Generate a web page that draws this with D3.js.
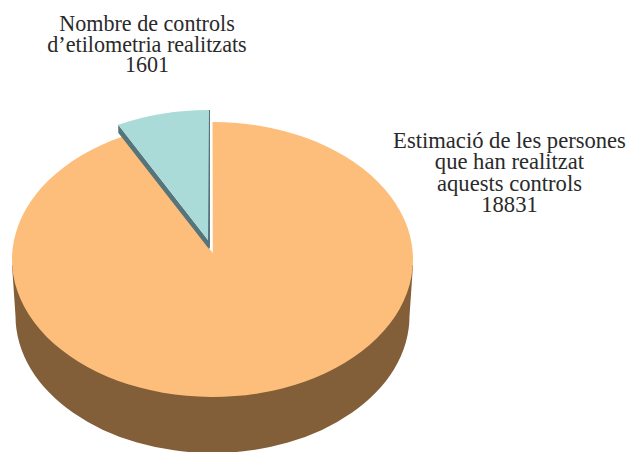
<!DOCTYPE html>
<html><head><meta charset="utf-8">
<script src="https://cdn.jsdelivr.net/npm/d3@7"></script>
<style>html,body{margin:0;padding:0;background:#fff}svg{display:block}text{font-family:"Liberation Serif",serif;fill:#2a2a2a}</style>
</head><body><div id="c"></div>
<script>
const categories = ["Estimació de les persones que han realitzat aquests controls", "Nombre de controls d’etilometria realitzats"];
const values = [18831, 1601];
const labelLines = [
  ["Estimació de les persones", "que han realitzat", "aquests controls", "18831"],
  ["Nombre de controls", "d’etilometria realitzats", "1601"]
];
const W = 629, H = 452;
const svg = d3.select("#c").append("svg").attr("width", W).attr("height", H);
const arcs = d3.pie().sort(null).value(d => d)(values);
const sx = (r, c) => a => c + r * Math.sin(a);
const sy = (r, c) => a => c - r * Math.cos(a);
function slice(d, g, trim = 0) {
  const X = sx(g.rx, g.cx), Y = sy(g.ry, g.cy);
  const a1 = d.endAngle + trim;
  const large = a1 - d.startAngle > Math.PI ? 1 : 0;
  return `M${g.ax},${g.ay}L${X(d.startAngle)},${Y(d.startAngle)}A${g.rx},${g.ry} 0 ${large} 1 ${X(a1)},${Y(a1)}Z`;
}
const mainG = {cx: 212.5, cy: 259.5, rx: 200.5, ry: 137.5, ax: 212.8, ay: 253};
const baseG = {cx: 212.5, cy: 316, rx: 197, ry: 137};
const topG = {cx: 209, cy: 235, rx: 192, ry: 125, ax: 208, ay: 240};
const topX = d => topG.ax + d;

// side wall of the main slice
svg.append("path").attr("fill", "#825f38").attr("d",
  `M${mainG.cx - mainG.rx},265L${baseG.cx - baseG.rx},${baseG.cy}A${baseG.rx},${baseG.ry} 0 0 0 ${baseG.cx + baseG.rx},${baseG.cy}L${mainG.cx + mainG.rx},265Z`);
// main slice top
svg.append("path").attr("fill", "#fdbd7b").attr("d", slice(arcs[0], mainG, 0.024));

// exploded slice: side
const b = arcs[1], X = sx(topG.rx, topG.cx), Y = sy(topG.ry, topG.cy);
const lx = X(b.startAngle), ly = Y(b.startAngle);
svg.append("path").attr("fill", "#55757a").attr("d",
  `M${lx},${ly}L${lx},${ly + 8}L${topX(1)},${topG.ay + 9}L${topX(2)},${topG.ay + 7}L${topX(2)},${Y(b.endAngle)}L${topX(0)},${Y(b.endAngle)}L${topX(0)},${topG.ay}Z`);
// exploded slice: top
svg.append("path").attr("fill", "#abdbd9").attr("d", slice(b, topG));

function label(lines, x, y, fs, lh) {
  svg.append("text").attr("text-anchor", "middle").attr("font-size", fs)
    .selectAll("tspan").data(lines).join("tspan")
    .attr("x", x).attr("y", (d, i) => y + i * lh).text(d => d);
}
label(labelLines[0], 509.5, 148, 22.6, 21.4);
label(labelLines[1], 147, 31, 22.1, 20.6);
</script></body></html>
